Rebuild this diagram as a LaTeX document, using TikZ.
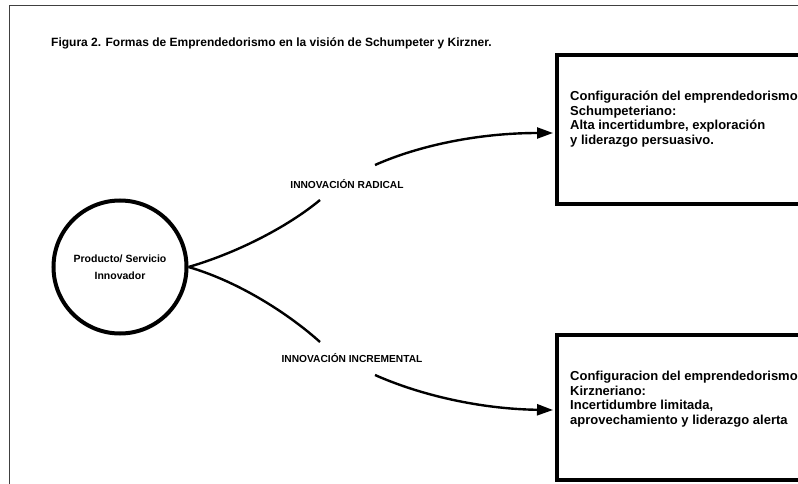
\documentclass[tikz,border=0pt]{standalone}
\usepackage{fontspec}
\setmainfont{Liberation Sans}
\usetikzlibrary{arrows.meta}
\begin{document}
\begin{tikzpicture}[x=1pt,y=-1pt,
  frame/.style={draw=black!75,line width=1pt},
  bigbox/.style={draw,line width=4pt,rectangle,anchor=north west,inner sep=0pt},
  boxtext/.style={anchor=north west,align=left,inner sep=0pt,font=\bfseries\fontsize{13}{14.5}\selectfont},
  lbl/.style={inner sep=0pt,font=\bfseries\fontsize{10.2}{12}\selectfont},
  conn/.style={line width=2.4pt},
  arr/.style={conn,-{Triangle[length=16pt,width=11pt]}}]
\useasboundingbox (0,0) rectangle (798,484);
\clip (0,0) rectangle (798,484);
\fill[white] (0,0) rectangle (798,484);
\draw[frame] (9,490) -- (9,6) -- (805,6);
\node[anchor=west,inner sep=0pt,font=\bfseries\fontsize{12}{14}\selectfont] (title) at (51,43)
  {Figura 2. Formas de Emprendedorismo en la visión de Schumpeter y Kirzner.};
\node[draw,circle,line width=4pt,minimum size=133pt,inner sep=0pt,align=center,
  font=\bfseries\fontsize{10.5}{17}\selectfont] (c) at (120,267) {Producto/ Servicio\\Innovador};
\node[bigbox,minimum width=260pt,minimum height=149pt] (b1) at (555,53) {};
\node[bigbox,minimum width=260pt,minimum height=145pt] (b2) at (555,333) {};
\node[boxtext] (t1) at (570,91) {Configuración del emprendedorismo\\Schumpeteriano:\\Alta incertidumbre, exploración\\y liderazgo persuasivo.};
\node[boxtext] (t2) at (570,371) {Configuracion del emprendedorismo\\Kirzneriano:\\Incertidumbre limitada,\\aprovechamiento y liderazgo alerta};
\node[lbl] (r) at (347,184) {INNOVACIÓN RADICAL};
\node[lbl] (i) at (352,358) {INNOVACIÓN INCREMENTAL};
\coordinate (r1) at (320,200);
\coordinate (r2) at (375,165);
\coordinate (i1) at (320,342);
\coordinate (i2) at (375,375);
\coordinate (a1) at ([xshift=-2pt]b1.west |- 0,133);
\coordinate (a2) at ([xshift=-2pt]b2.west |- 0,410);
\draw[conn] (c.east) .. controls (240,252) and (290,225) .. (r1);
\draw[arr] (r2) .. controls (420,145) and (480,133) .. (a1);
\draw[conn] (c.east) .. controls (240,282) and (290,315) .. (i1);
\draw[arr] (i2) .. controls (420,395) and (480,409) .. (a2);
\end{tikzpicture}
\end{document}
